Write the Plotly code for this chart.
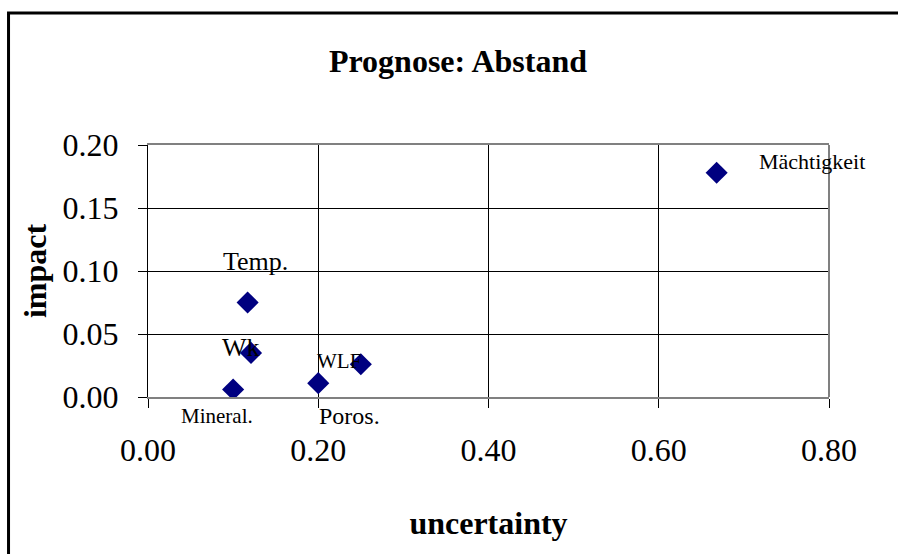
import plotly.graph_objects as go

# Sensitivity factors: uncertainty vs. impact on the distance forecast
factors = ["Mächtigkeit", "Temp.", "Wk", "Mineral.", "Poros.", "WLF"]
uncertainty = [0.668, 0.117, 0.121, 0.100, 0.200, 0.250]
impact = [0.178, 0.075, 0.035, 0.006, 0.011, 0.026]

# label offsets (px) and font sizes for each factor's text
label_dx = [95, 8, -10, -16, 31, -22]
label_dy = [11, 41, 5, -27, -33, 3]
label_size = [22, 26, 26, 21, 24, 21]

x_ticks = [0.0, 0.2, 0.4, 0.6, 0.8]
y_ticks = [0.0, 0.05, 0.10, 0.15, 0.20]

SERIF = "Times New Roman, Liberation Serif, serif"

fig = go.Figure()
fig.add_trace(go.Scatter(
    x=uncertainty, y=impact, mode="markers",
    marker=dict(symbol="diamond", size=17, color="#000080", line=dict(width=0)),
    hoverinfo="x+y", showlegend=False,
))

for name, xv, yv, dx, dy, fs in zip(factors, uncertainty, impact, label_dx, label_dy, label_size):
    fig.add_annotation(
        x=xv, y=yv, xref="x", yref="y", text=name, showarrow=False,
        xshift=dx, yshift=dy, xanchor="center", yanchor="middle",
        font=dict(family=SERIF, size=fs, color="black"),
    )

# right frame edge (grey) and outer chart border
fig.add_shape(type="line", xref="paper", yref="paper", x0=1, x1=1, y0=0, y1=1,
              line=dict(color="#808080", width=2), layer="above")
fig.add_shape(type="rect", xref="paper", yref="paper",
              x0=-0.2048, x1=1.115, y0=-0.66, y1=1.5238,
              line=dict(color="black", width=3), layer="above")

fig.update_layout(
    width=898, height=554,
    margin=dict(l=148, r=69, t=145, b=157),
    paper_bgcolor="white", plot_bgcolor="white",
    font=dict(family=SERIF, color="black"),
    title=dict(text="<b>Prognose: Abstand</b>", x=0.51, xanchor="center",
               y=0.87, yanchor="bottom", font=dict(family=SERIF, size=32, color="black")),
    xaxis=dict(
        range=[0, 0.8], tickvals=x_ticks, tickformat=".2f",
        showgrid=True, gridcolor="black", gridwidth=1,
        showline=True, linecolor="#808080", linewidth=2, mirror=True,
        ticks="outside", ticklen=9, tickcolor="black", tickwidth=1,
        tickfont=dict(family=SERIF, size=32), ticklabelstandoff=15,
        zeroline=False,
        title=dict(text="<b>uncertainty</b>", font=dict(family=SERIF, size=32), standoff=44),
    ),
    yaxis=dict(
        range=[0, 0.2], tickvals=y_ticks, tickformat=".2f",
        showgrid=True, gridcolor="black", gridwidth=1,
        showline=True, linecolor="black", linewidth=1,
        ticks="outside", ticklen=9, tickcolor="black", tickwidth=1,
        tickfont=dict(family=SERIF, size=32), ticklabelstandoff=13,
        zeroline=False,
        title=dict(text="<b>impact</b>", font=dict(family=SERIF, size=32), standoff=6),
    ),
)

fig.write_html("out.html")
